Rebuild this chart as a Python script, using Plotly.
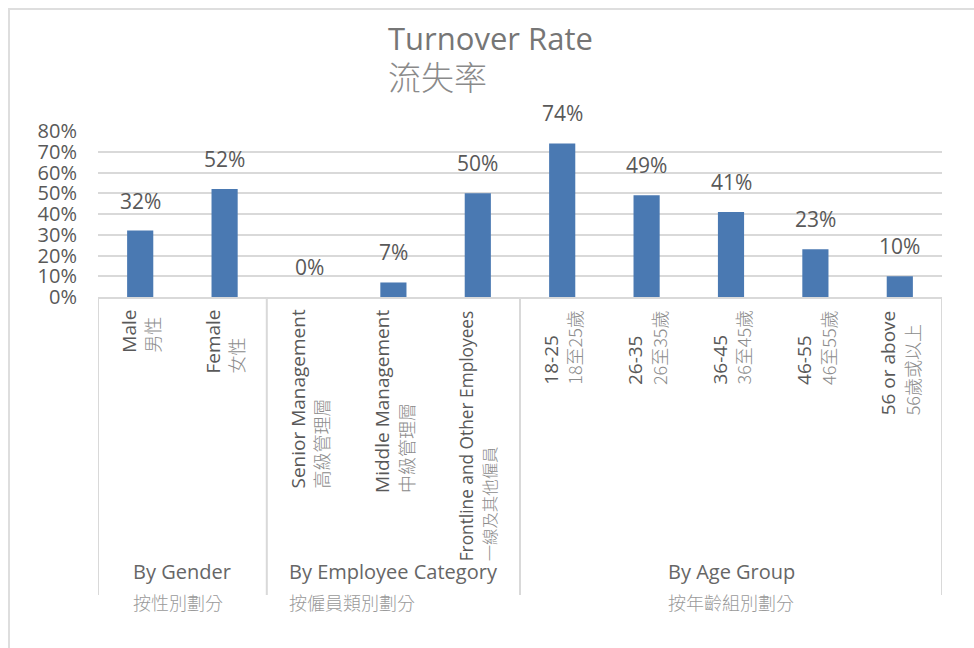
import plotly.graph_objects as go

# ---------------- data ----------------
group_names_en = ["By Gender", "By Employee Category", "By Age Group"]
group_names_zh = ["按性別劃分", "按僱員類別劃分", "按年齡組別劃分"]
group_sizes = [2, 3, 5]
categories_en = ["Male", "Female", "Senior Management", "Middle Management",
                 "Frontline and Other Employees", "18-25", "26-35", "36-45",
                 "46-55", "56 or above"]
categories_zh = ["男性", "女性", "高級管理層", "中級管理層", "一線及其他僱員",
                 "18至25歲", "26至35歲", "36至45歲", "46至55歲", "56歲或以上"]
turnover_pct = [32, 52, 0, 7, 50, 74, 49, 41, 23, 10]
y_tick_values = [0, 10, 20, 30, 40, 50, 60, 70, 80]
y_tick_labels = ["0%", "10%", "20%", "30%", "40%", "50%", "60%", "70%", "80%"]
title_en = "Turnover Rate"
title_zh = "流失率"

# ---------------- style ----------------
W, H = 974, 648
PLOT_L, PLOT_R, PLOT_T, PLOT_B = 98, 942, 131, 297
PLOT_H = PLOT_B - PLOT_T
PLOT_W = PLOT_R - PLOT_L
EN = "Open Sans"
ZH = "Noto Sans CJK TC"
BAR = "#4a79b2"
GRID = "#d9d9d9"
TXT = "#595959"
TXT_ZH = "#8c8c8c"


def span(text, size, color, family, weight=400):
    return (f"<span style=\"font-family:'{family}';font-size:{size}px;"
            f"color:{color};font-weight:{weight}\">{text}</span>")


def px_to_paper_y(py):
    return (PLOT_B - py) / PLOT_H


def px_to_paper_x(px):
    return (px - PLOT_L) / PLOT_W


fig = go.Figure()
fig.add_trace(go.Bar(
    x=categories_en, y=turnover_pct, width=0.31,
    marker=dict(color=BAR, line=dict(width=0)),
    hoverinfo="skip",
))

annotations = []
# data labels
for c, v in zip(categories_en, turnover_pct):
    annotations.append(dict(
        x=c, y=v, xref="x", yref="y", text=f"{v}%", showarrow=False,
        yanchor="bottom", xanchor="center", yshift=14,
        font=dict(family=EN, size=21, color=TXT),
    ))

# rotated category labels (long labels are set slightly smaller)
for c, cz in zip(categories_en, categories_zh):
    scale = 0.91 if len(c) > 24 else 1.0
    en_size = round(19 * scale, 1)
    zh_size = round(18 * scale, 1)
    annotations.append(dict(
        x=c, y=0, xref="x", yref="paper", showarrow=False,
        text=f"{c}<br>{span(cz, zh_size, TXT_ZH, ZH, 300)}",
        textangle=-90, align="left",
        xanchor="center", yanchor="top", yshift=-11,
        font=dict(family=EN, size=en_size, color=TXT),
    ))

# group labels & dividers
shapes = []
start = 0
bounds = [-0.5]
for gname, gzh, n in zip(group_names_en, group_names_zh, group_sizes):
    center = start + (n - 1) / 2
    annotations.append(dict(
        x=center, y=0, xref="x", yref="paper", showarrow=False,
        text=(f"{span(gname, 20, '#666666', EN)}<br>"
              f"{span(gzh, 18, '#9a9a9a', ZH, 300)}"),
        align="left", xanchor="center", yanchor="top", yshift=-259,
        font=dict(family=EN, size=24, color="#666666"),
    ))
    start += n
    bounds.append(start - 0.5)

for b in bounds:
    shapes.append(dict(
        type="line", xref="x", yref="paper", x0=b, x1=b,
        y0=0, y1=px_to_paper_y(595),
        line=dict(color=GRID, width=2), layer="above",
    ))

# outer frame
shapes.append(dict(
    type="rect", xref="paper", yref="paper",
    x0=px_to_paper_x(9), x1=px_to_paper_x(W + 20),
    y0=px_to_paper_y(H + 20), y1=px_to_paper_y(9),
    line=dict(color="#dedede", width=2), fillcolor="rgba(0,0,0,0)",
    layer="below",
))

# title (two lines, left aligned)
annotations.append(dict(
    x=px_to_paper_x(386), y=px_to_paper_y(38), xref="paper", yref="paper",
    text=title_en, showarrow=False, xanchor="left", yanchor="middle",
    font=dict(family=EN, size=31, color="#767676"),
))
annotations.append(dict(
    x=px_to_paper_x(386), y=px_to_paper_y(76), xref="paper", yref="paper",
    text=title_zh, showarrow=False, xanchor="left", yanchor="middle",
    font=dict(family=ZH, size=33, color="#8a8a8a", weight=300),
))

fig.update_layout(
    width=W, height=H,
    margin=dict(l=PLOT_L, r=W - PLOT_R, t=PLOT_T, b=H - PLOT_B, pad=0),
    paper_bgcolor="white", plot_bgcolor="white",
    showlegend=False,
    xaxis=dict(
        range=[-0.5, len(categories_en) - 0.5],
        showticklabels=False, ticks="", showgrid=False, zeroline=False,
        showline=True, linecolor=GRID, linewidth=2,
        categoryorder="array", categoryarray=categories_en,
    ),
    yaxis=dict(
        range=[0, 80], tickvals=y_tick_values, ticktext=y_tick_labels,
        showgrid=True, gridcolor=GRID, gridwidth=2, zeroline=False,
        showline=False, ticks="", ticklabelstandoff=20,
        tickfont=dict(family=EN, size=20, color=TXT),
    ),
    annotations=annotations,
    shapes=shapes,
)

fig.write_html(
    "out.html",
    config={"displayModeBar": False},
    post_script="document.body.style.margin='0';"
                "document.body.style.overflow='hidden';",
)
